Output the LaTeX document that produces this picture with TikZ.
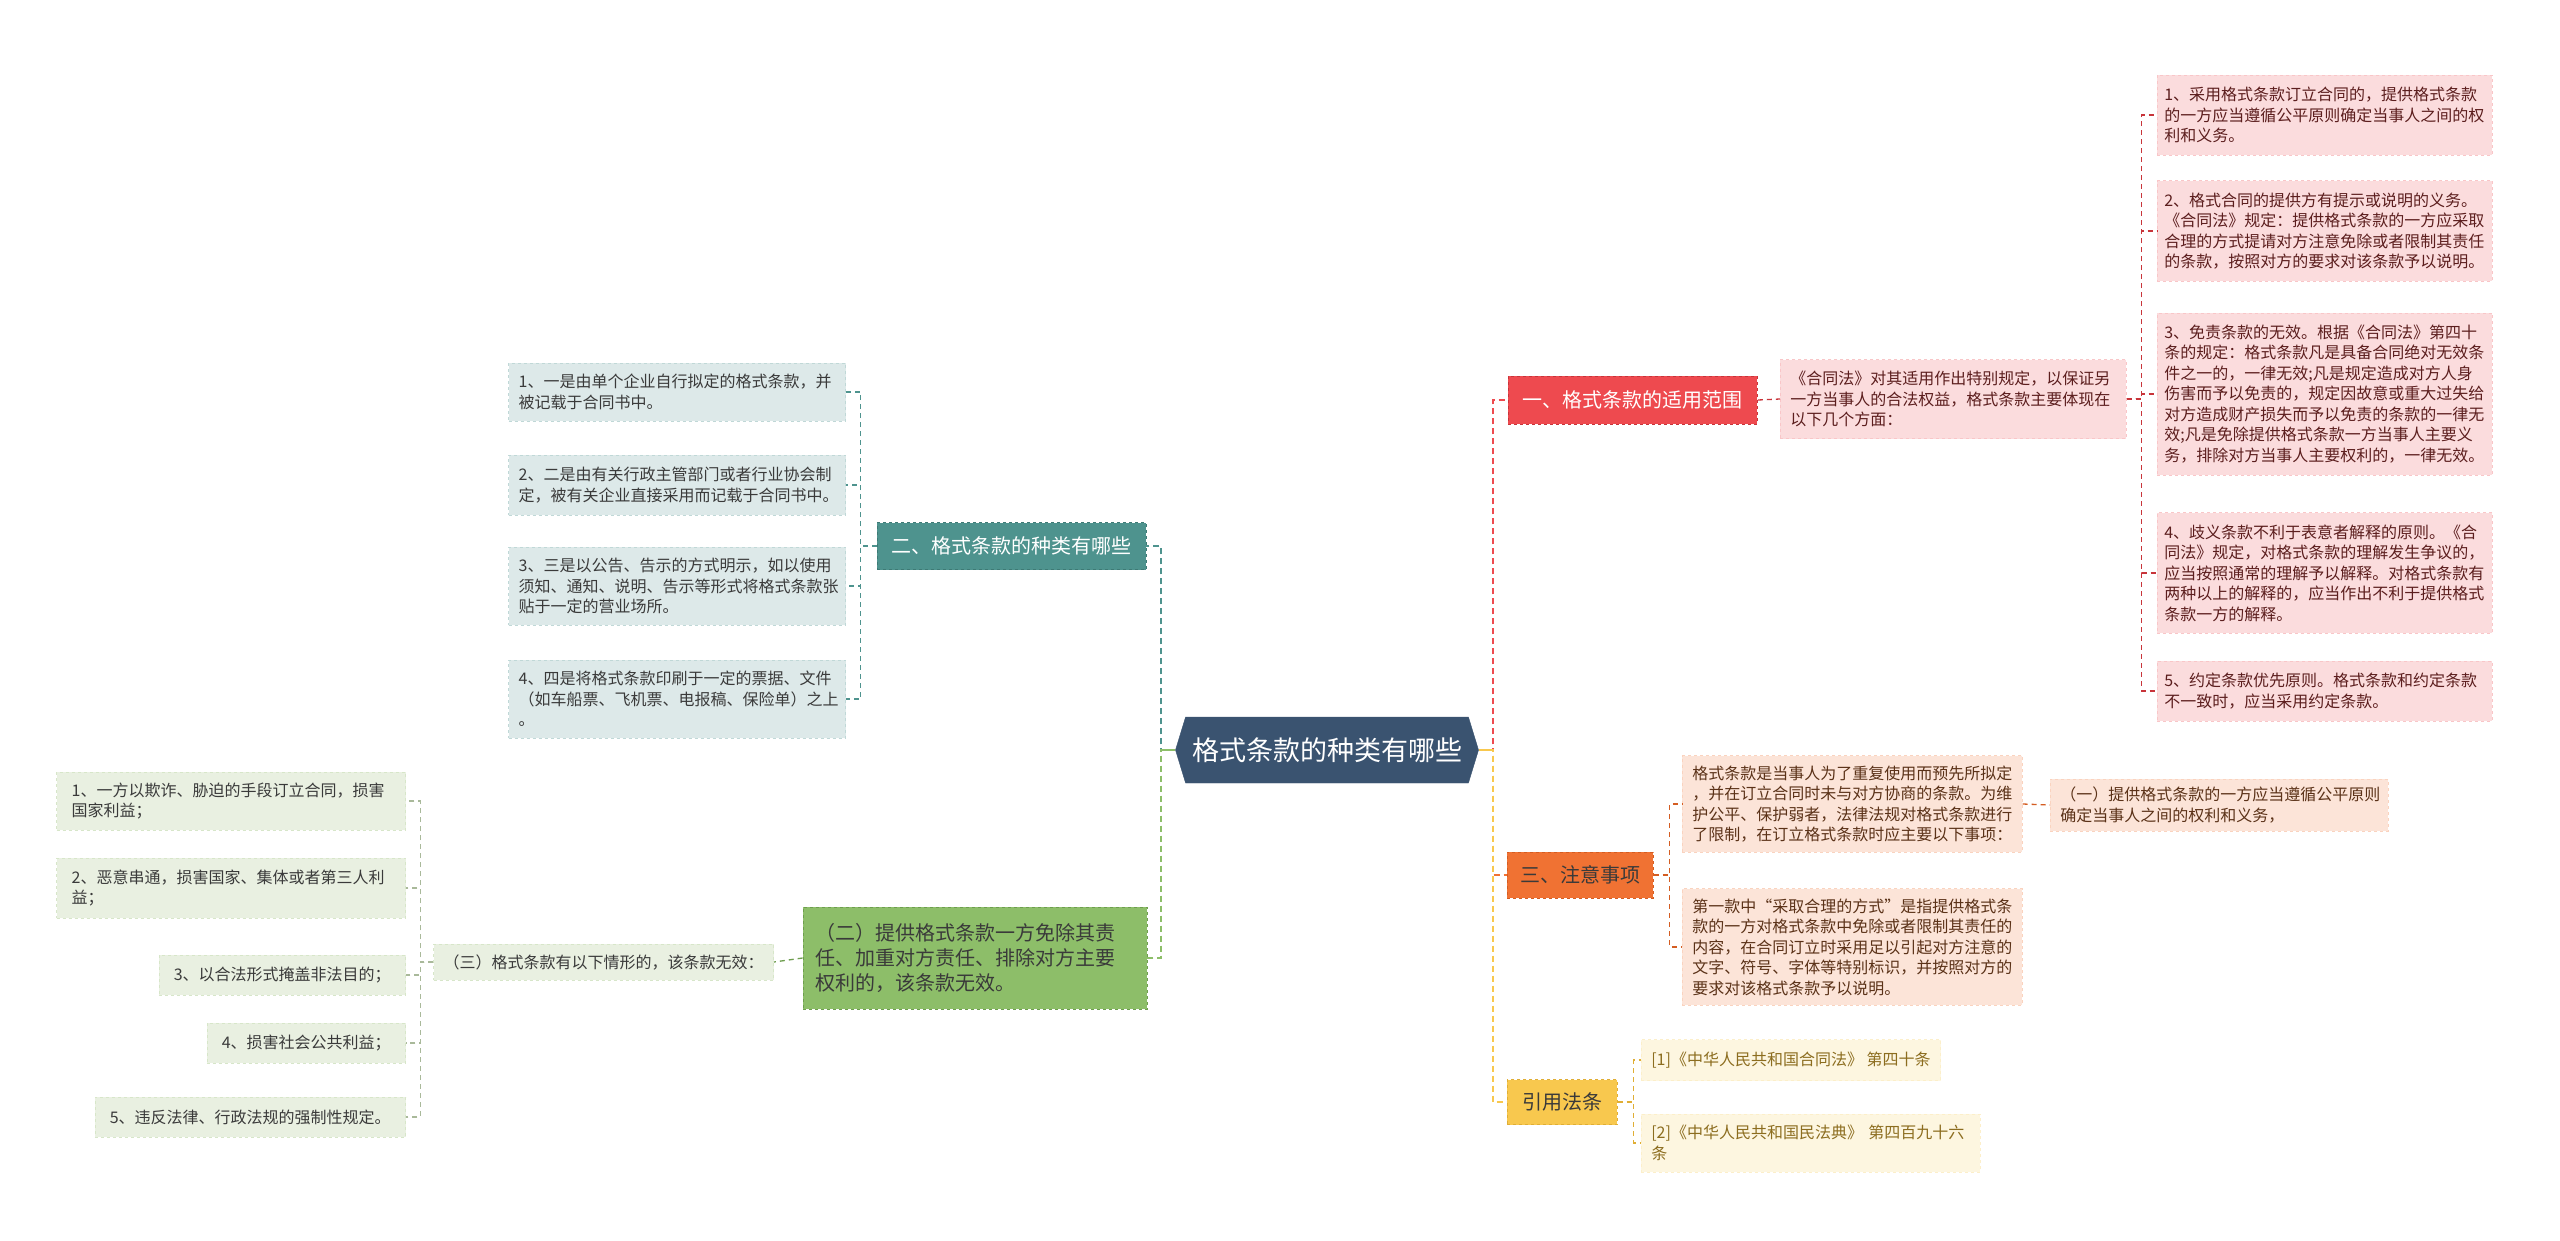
\documentclass[tikz,border=0pt]{standalone}
\usepackage{fontspec}
\setmainfont{Noto Sans CJK SC}
\usetikzlibrary{shapes.symbols}

\definecolor{hubblue}{HTML}{3A5370}
\definecolor{tealc}{HTML}{4E938E}
\definecolor{tealdark}{HTML}{3E7A75}
\definecolor{tealleaf}{HTML}{DDE9E9}
\definecolor{redc}{HTML}{EE4A4F}
\definecolor{reddark}{HTML}{C8343A}
\definecolor{redleaf}{HTML}{FBDCDD}
\definecolor{redtext}{HTML}{5C1E1E}
\definecolor{orangec}{HTML}{F07233}
\definecolor{orangedark}{HTML}{D45D22}
\definecolor{orangeleaf}{HTML}{FCE4D8}
\definecolor{orangetext}{HTML}{5B3218}
\definecolor{yellowc}{HTML}{F8C84E}
\definecolor{yellowdark}{HTML}{E0AE35}
\definecolor{yellowleaf}{HTML}{FDF6E0}
\definecolor{yellowtext}{HTML}{8C6D1F}
\definecolor{greenc}{HTML}{8DBE69}
\definecolor{greendark}{HTML}{6E9E4E}
\definecolor{greenleaf}{HTML}{E9F0E1}
\definecolor{greenline}{HTML}{A9B99A}
\definecolor{leaftext}{HTML}{3A3A3A}

\tikzset{
  hub/.style={signal, signal to=east and west, signal pointer angle=146,
    fill=hubblue, draw=hubblue, text=white, minimum width=303pt,
    minimum height=66pt, inner xsep=0pt, font=\fontsize{27}{32}\selectfont},
  topic/.style={draw, dashed, line width=0.8pt, inner xsep=12pt,
    font=\fontsize{20}{25}\selectfont},
  leaf/.style={draw, dashed, line width=0.6pt, inner xsep=10pt, inner ysep=8pt,
    align=left, font=\fontsize{16}{20.5}\selectfont},
  link/.style={dash pattern=on 6pt off 4pt, line width=2pt},
  twig/.style={dash pattern=on 5pt off 4pt, line width=1.3pt},
}

\begin{document}
\begin{tikzpicture}[x=1pt,y=-1pt]
\useasboundingbox[fill=white] (0,0) rectangle (2560,1240);

\node[hub] (hub) at (1327,750) {格式条款的种类有哪些};
\coordinate (lt) at (1161,750);
\coordinate (rt) at (1493,750);

% left side
\node[topic, fill=tealc, draw=tealdark, text=white, minimum width=269pt, minimum height=47pt] (kinds) at (1011.5,546) {二、格式条款的种类有哪些};
\node[topic, fill=greenc, draw=greendark, text=leaftext, align=left, text width=320pt, inner xsep=12pt, minimum height=102pt] (void) at (975,958) {（二）提供格式条款一方免除其责\\任、加重对方责任、排除对方主要\\权利的，该条款无效。};

\node[leaf, fill=tealleaf, draw=tealleaf!80!tealc, text=leaftext, anchor=east, text width=317pt, minimum height=58pt] (k1) at (846,392) {1、一是由单个企业自行拟定的格式条款，并\\被记载于合同书中。};
\node[leaf, fill=tealleaf, draw=tealleaf!80!tealc, text=leaftext, anchor=east, text width=317pt, minimum height=60pt] (k2) at (846,485) {2、二是由有关行政主管部门或者行业协会制\\定，被有关企业直接采用而记载于合同书中。};
\node[leaf, fill=tealleaf, draw=tealleaf!80!tealc, text=leaftext, anchor=east, text width=317pt, minimum height=78pt] (k3) at (846,586) {3、三是以公告、告示的方式明示，如以使用\\须知、通知、说明、告示等形式将格式条款张\\贴于一定的营业场所。};
\node[leaf, fill=tealleaf, draw=tealleaf!80!tealc, text=leaftext, anchor=east, text width=317pt, minimum height=78pt] (k4) at (846,699) {4、四是将格式条款印刷于一定的票据、文件\\（如车船票、飞机票、电报稿、保险单）之上\\。};

\node[leaf, fill=greenleaf, draw=greenleaf!80!greenc, text=leaftext, anchor=east, minimum height=36pt] (rule3) at (774,962) {（三）格式条款有以下情形的，该条款无效：};
\node[leaf, fill=greenleaf, draw=greenleaf!80!greenc, text=leaftext, anchor=east, text width=319pt, inner xsep=15pt, minimum height=58pt] (g1) at (406,801) {1、一方以欺诈、胁迫的手段订立合同，损害\\国家利益；};
\node[leaf, fill=greenleaf, draw=greenleaf!80!greenc, text=leaftext, anchor=east, text width=319pt, inner xsep=15pt, minimum height=60pt] (g2) at (406,888) {2、恶意串通，损害国家、集体或者第三人利\\益；};
\node[leaf, fill=greenleaf, draw=greenleaf!80!greenc, text=leaftext, anchor=east, inner xsep=15pt, minimum height=40pt] (g3) at (406,975) {3、以合法形式掩盖非法目的；};
\node[leaf, fill=greenleaf, draw=greenleaf!80!greenc, text=leaftext, anchor=east, inner xsep=15pt, minimum height=40pt] (g4) at (406,1043) {4、损害社会公共利益；};
\node[leaf, fill=greenleaf, draw=greenleaf!80!greenc, text=leaftext, anchor=east, inner xsep=15pt, minimum height=40pt] (g5) at (406,1117) {5、违反法律、行政法规的强制性规定。};

% right side
\node[topic, fill=redc, draw=reddark, text=white, anchor=west, minimum width=249pt, minimum height=48pt] (scope) at (1508,400) {一、格式条款的适用范围};
\node[topic, fill=orangec, draw=orangedark, text=leaftext, anchor=west, minimum width=146pt, minimum height=46pt] (notes) at (1507,875) {三、注意事项};
\node[topic, fill=yellowc, draw=yellowdark, text=leaftext, anchor=west, minimum width=110pt, minimum height=45pt] (cite) at (1507,1102) {引用法条};

\node[leaf, fill=redleaf, draw=redleaf!85!redc, text=redtext, anchor=west, text width=326pt, minimum height=79pt] (law) at (1780,399) {《合同法》对其适用作出特别规定，以保证另\\一方当事人的合法权益，格式条款主要体现在\\以下几个方面：};
\node[leaf, fill=redleaf, draw=redleaf!85!redc, text=redtext, anchor=west, text width=321pt, inner xsep=7pt, inner ysep=12pt] (r1) at (2157,115) {1、采用格式条款订立合同的，提供格式条款\\的一方应当遵循公平原则确定当事人之间的权\\利和义务。};
\node[leaf, fill=redleaf, draw=redleaf!85!redc, text=redtext, anchor=west, text width=321pt, inner xsep=7pt, inner ysep=12pt] (r2) at (2157,231) {2、格式合同的提供方有提示或说明的义务。\\《合同法》规定：提供格式条款的一方应采取\\合理的方式提请对方注意免除或者限制其责任\\的条款，按照对方的要求对该条款予以说明。};
\node[leaf, fill=redleaf, draw=redleaf!85!redc, text=redtext, anchor=west, text width=321pt, inner xsep=7pt, inner ysep=12pt] (r3) at (2157,394) {3、免责条款的无效。根据《合同法》第四十\\条的规定：格式条款凡是具备合同绝对无效条\\件之一的，一律无效;凡是规定造成对方人身\\伤害而予以免责的，规定因故意或重大过失给\\对方造成财产损失而予以免责的条款的一律无\\效;凡是免除提供格式条款一方当事人主要义\\务，排除对方当事人主要权利的，一律无效。};
\node[leaf, fill=redleaf, draw=redleaf!85!redc, text=redtext, anchor=west, text width=321pt, inner xsep=7pt, inner ysep=12pt] (r4) at (2157,573) {4、歧义条款不利于表意者解释的原则。《合\\同法》规定，对格式条款的理解发生争议的，\\应当按照通常的理解予以解释。对格式条款有\\两种以上的解释的，应当作出不利于提供格式\\条款一方的解释。};
\node[leaf, fill=redleaf, draw=redleaf!85!redc, text=redtext, anchor=west, text width=321pt, inner xsep=7pt, inner ysep=12pt] (r5) at (2157,691) {5、约定条款优先原则。格式条款和约定条款\\不一致时，应当采用约定条款。};

\node[leaf, fill=orangeleaf, draw=orangeleaf!85!orangec, text=orangetext, anchor=west, text width=320pt, inner ysep=10pt] (o1) at (1682,804) {格式条款是当事人为了重复使用而预先所拟定\\，并在订立合同时未与对方协商的条款。为维\\护公平、保护弱者，法律法规对格式条款进行\\了限制，在订立格式条款时应主要以下事项：};
\node[leaf, fill=orangeleaf, draw=orangeleaf!85!orangec, text=orangetext, anchor=west, text width=320pt, inner ysep=10pt] (o2) at (1682,947) {第一款中“采取合理的方式”是指提供格式条\\款的一方对格式条款中免除或者限制其责任的\\内容，在合同订立时采用足以引起对方注意的\\文字、符号、字体等特别标识，并按照对方的\\要求对该格式条款予以说明。};
\node[leaf, fill=orangeleaf, draw=orangeleaf!85!orangec, text=orangetext, anchor=west, text width=318pt] (fair) at (2050,805) {（一）提供格式条款的一方应当遵循公平原则\\确定当事人之间的权利和义务，};

\node[leaf, fill=yellowleaf, draw=yellowleaf!85!yellowc, text=yellowtext, anchor=west, minimum height=41pt] (c1) at (1641,1060) {[1]《中华人民共和国合同法》 第四十条};
\node[leaf, fill=yellowleaf, draw=yellowleaf!85!yellowc, text=yellowtext, anchor=west, text width=319pt, minimum height=58pt] (c2) at (1641,1143) {[2]《中华人民共和国民法典》 第四百九十六\\条};

% connectors
\draw[link, tealc] (hub.west) -- (lt) |- (kinds.east);
\draw[link, greenc] (hub.west) -- (lt) |- (void.east);
\draw[link, redc] (hub.east) -- (rt) |- (scope.west);
\draw[link, orangec] (hub.east) -- (rt) |- (notes.west);
\draw[link, yellowc] (hub.east) -- (rt) |- (cite.west);
\draw[line width=2pt, greenc] (hub.west) -- (lt);
\draw[line width=2pt, yellowc] (hub.east) -- (rt);

\foreach \k in {k1,k2,k3,k4} \draw[twig, tealc] (kinds.west) -- ++(-16,0) |- (\k.east);
\draw[twig, greendark] (void.west) -- (rule3.east);
\foreach \g in {g1,g2,g3,g4,g5} \draw[twig, greenline] (rule3.west) -- ++(-13,0) |- (\g.east);
\draw[twig, reddark] (scope.east) -- (law.west);
\foreach \r in {r1,r2,r3,r4,r5} \draw[twig, reddark] (law.east) -- ++(15,0) |- (\r.west);
\foreach \o in {o1,o2} \draw[twig, orangedark] (notes.east) -- ++(16,0) |- (\o.west);
\draw[twig, orangedark] (o1.east) -- (fair.west);
\foreach \c in {c1,c2} \draw[twig, yellowdark] (cite.east) -- ++(16,0) |- (\c.west);
\end{tikzpicture}
\end{document}
